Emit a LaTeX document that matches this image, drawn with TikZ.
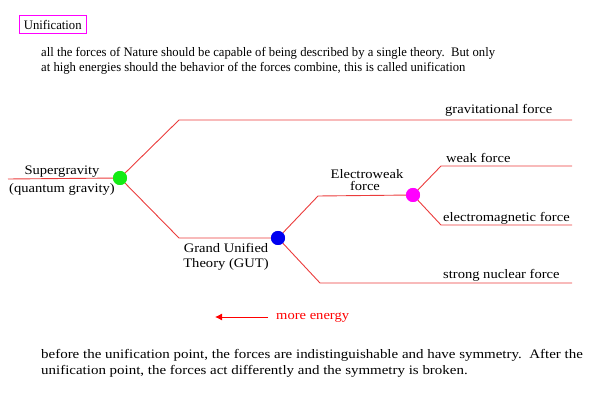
\documentclass[tikz,border=0pt]{standalone}
\usepackage{fontspec}
\setmainfont{Liberation Serif}[FakeStretch=1.12]
\newfontfamily\topfont{Liberation Serif}[FakeStretch=0.975]
\newfontfamily\botfont{Liberation Serif}[FakeStretch=1.15]
\usetikzlibrary{arrows.meta}
\definecolor{lnred}{RGB}{235,60,60}
\definecolor{dotgreen}{RGB}{20,235,20}
\definecolor{dotblue}{RGB}{0,0,240}
\definecolor{dotmag}{RGB}{255,0,255}
\begin{document}
\begin{tikzpicture}[x=1pt,y=-1pt,
  line/.style={draw=lnred,line width=0.9pt},
  dot/.style={circle,inner sep=0pt,minimum size=14pt},
  txt/.style={inner sep=0pt,font=\fontsize{13}{15}\selectfont},
  lbl/.style={txt,align=center}]
\useasboundingbox (0,0) rectangle (605,411);
% title
\node[txt,font=\fontsize{13}{15}\topfont,draw=dotmag,line width=0.8pt,inner xsep=4.5pt,inner ysep=4pt,anchor=west] (title) at (19,24.5) {Unification};
\node[txt,anchor=base west,font=\fontsize{13}{15}\topfont] (p1a) at (41,57) {all the forces of Nature should be capable of being described by a single theory.\ \ But only};
\node[txt,anchor=base west,font=\fontsize{13}{15}\topfont] (p1b) at (41,72) {at high energies should the behavior of the forces combine, this is called unification};
% nodes
\coordinate (s0) at (8,179);
\node[dot,fill=dotgreen] (sg) at (120,178) {};
\coordinate (u1) at (179,120);
\coordinate (u2) at (572,120);
\coordinate (l1) at (179,238);
\node[dot,fill=dotblue] (gut) at (278,238) {};
\coordinate (e1) at (318,196);
\node[dot,fill=dotmag] (ew) at (413,195) {};
\coordinate (s1) at (320,283);
\coordinate (s2) at (572,283);
\coordinate (w1) at (441,166);
\coordinate (w2) at (572,166);
\coordinate (m1) at (441,225);
\coordinate (m2) at (572,225);
% connectors
\draw[line] (s0) -- (sg.center);
\draw[line] (sg) -- (u1) -- (u2);
\draw[line] (sg) -- (l1) -- (gut);
\draw[line] (gut) -- (e1) -- (ew);
\draw[line] (gut) -- (s1) -- (s2);
\draw[line] (ew) -- (w1) -- (w2);
\draw[line] (ew) -- (m1) -- (m2);
\node[dot,fill=dotgreen] at (sg) {};
\node[dot,fill=dotblue] at (gut) {};
\node[dot,fill=dotmag] at (ew) {};
% labels
\node[txt,anchor=base west] (lg) at (445,114) {gravitational force};
\node[txt,anchor=base west] (lw) at (446,163) {weak force};
\node[txt,anchor=base west] (lm) at (443,222) {electromagnetic force};
\node[txt,anchor=base west] (ls) at (443,279) {strong nuclear force};
\node[lbl,anchor=base] (lsg1) at (62,175) {Supergravity};
\node[lbl,anchor=base] (lsg2) at (62,193) {(quantum gravity)};
\node[lbl,anchor=base] (lew1) at (367,179) {Electroweak};
\node[lbl,anchor=base] (lew2) at (365,191) {force};
\node[lbl,anchor=base] (lgut1) at (226,253) {Grand Unified};
\node[lbl,anchor=base] (lgut2) at (226,268) {Theory (GUT)};
% energy arrow
\node[txt,anchor=base west,text=red] (me) at (276,320) {more energy};
\coordinate (a0) at (268,317);
\coordinate (a1) at (215,317);
\draw[draw=red,line width=0.9pt,-{Latex[length=7pt,width=7pt]}] (a0) -- (a1);
% bottom text
\node[txt,anchor=base west,font=\fontsize{13}{15}\botfont] (p2a) at (41,359) {before the unification point, the forces are indistinguishable and have symmetry.\ \ After the};
\node[txt,anchor=base west,font=\fontsize{13}{15}\botfont] (p2b) at (41,375) {unification point, the forces act differently and the symmetry is broken.};
\end{tikzpicture}
\end{document}
